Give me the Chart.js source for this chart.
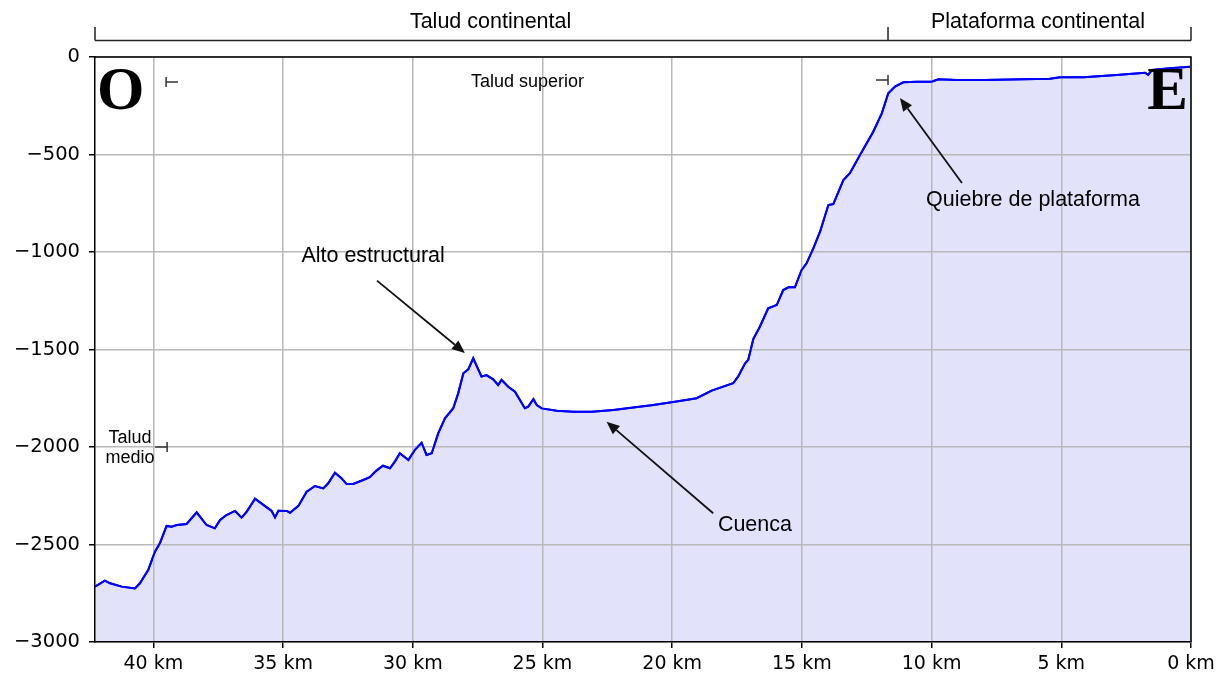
<!DOCTYPE html>
<html lang="es">
<head>
<meta charset="utf-8">
<title>Perfil batimétrico</title>
<script src="https://cdn.jsdelivr.net/npm/chart.js@4.4.1/dist/chart.umd.min.js"></script>
<style>
  html, body { margin: 0; padding: 0; background: #fff; }
  #wrap { width: 1225px; height: 673px; }
</style>
</head>
<body>
<div id="wrap"><canvas id="profilChart" width="1225" height="673"></canvas></div>
<script>
/* ===================================DATEN========================================= */

const distanzKm = [
  42.25, 41.87, 41.67, 41.22, 40.71, 40.52, 40.20, 39.94, 39.75, 39.49,
  39.30, 39.10, 38.72, 38.33, 37.95, 37.63, 37.43, 37.18, 36.85, 36.60,
  36.40, 36.08, 35.76, 35.44, 35.31, 35.18, 34.86, 34.73, 34.41, 34.09,
  33.77, 33.45, 33.26, 33.00, 32.75, 32.55, 32.30, 31.91, 31.66, 31.40,
  31.15, 30.88, 30.69, 30.50, 30.17, 29.92, 29.66, 29.47, 29.27, 29.02,
  28.76, 28.44, 28.25, 28.05, 27.86, 27.67, 27.35, 27.16, 26.90, 26.71,
  26.58, 26.32, 26.06, 25.68, 25.55, 25.35, 25.22, 25.03, 24.45, 23.81,
  23.10, 22.27, 21.50, 20.73, 19.96, 19.06, 18.48, 17.65, 17.46, 17.19,
  17.07, 16.87, 16.62, 16.30, 15.97, 15.72, 15.52, 15.27, 15.01, 14.82,
  14.56, 14.30, 13.98, 13.79, 13.40, 13.15, 12.76, 12.25, 11.92, 11.67,
  11.41, 11.09, 10.58, 10.00, 9.74, 9.03, 8.00, 5.44, 5.05, 4.15,
  2.87, 1.77, 1.65, 1.51, 0.81, 0.04
];
const tiefeM = [
  -2716, -2685, -2699, -2716, -2725, -2699, -2631, -2537, -2494, -2405,
  -2409, -2400, -2395, -2335, -2400, -2417, -2374, -2349, -2328, -2362,
  -2331, -2265, -2297, -2328, -2361, -2327, -2328, -2337, -2302, -2229,
  -2200, -2212, -2186, -2132, -2160, -2190, -2190, -2169, -2155, -2121,
  -2096, -2109, -2075, -2032, -2067, -2015, -1978, -2041, -2032, -1930,
  -1853, -1801, -1725, -1622, -1602, -1545, -1639, -1631, -1653, -1682,
  -1656, -1691, -1716, -1801, -1793, -1755, -1785, -1802, -1814, -1819,
  -1819, -1810, -1797, -1785, -1769, -1750, -1711, -1673, -1639, -1571,
  -1554, -1445, -1383, -1289, -1272, -1195, -1181, -1181, -1092, -1058,
  -981, -896, -759, -754, -631, -596, -503, -383, -289, -186,
  -152, -130, -127, -127, -114, -118, -118, -111, -104, -104,
  -92, -81, -92, -67, -58, -50
];

// Achsen
const xMaxKm = 42.25;
const xTicks = [0, 5, 10, 15, 20, 25, 30, 35, 40];
const yTicks = [-3000, -2500, -2000, -1500, -1000, -500, 0];

// Klammer über dem Plot (Grenzen in km)
const bereichGrenzen = [42.25, 11.68, 0];
const bereichLabels = ["Talud continental", "Plataforma continental"];
const bereichLabelKm = [27.0, 5.9];

// Beschriftungen im Plot [text, km, m]
const textLabels = [
  ["Talud superior", 25.58, -152],
  ["Talud", 40.9, -1978],
  ["medio", 40.9, -2082],
  ["Alto estructural", 31.53, -1050],
  ["Cuenca", 16.81, -2431],
  ["Quiebre de plataforma", 6.09, -764]
];

// Pfeile [vonKm, vonM, nachKm, nachM]
const pfeile = [
  [31.38, -1147, 27.99, -1518],
  [18.42, -2340, 22.53, -1870],
  [8.83, -646, 11.22, -210]
];

// Kleine Marker [km, m, Richtung] (+1 = Arm nach rechts, -1 = nach links)
const marker = [
  [39.51, -128, 1],
  [11.68, -118, -1],
  [39.47, -2000, -1]
];

/* ===================================ANNOTATIONEN========================================= */

const annotPlugin = {
  id: "annot",
  afterDraw(chart) {
    const { ctx, chartArea: a, scales: { x, y } } = chart;
    const px = v => x.getPixelForValue(v);
    const py = v => y.getPixelForValue(v);
    ctx.save();

    // Rahmen oben + rechts
    ctx.strokeStyle = "#000";
    ctx.lineWidth = 1.5;
    ctx.beginPath();
    ctx.moveTo(a.left, a.top);
    ctx.lineTo(a.right, a.top);
    ctx.lineTo(a.right, a.bottom);
    ctx.stroke();

    // Profillinie nochmal über das Gitter legen (wie bei matplotlib)
    chart.getDatasetMeta(0).dataset.draw(ctx, a);

    // Klammer oben
    const yLinie = py(84), yTickOben = py(154);
    ctx.strokeStyle = "#222";
    ctx.lineWidth = 1.5;
    ctx.beginPath();
    ctx.moveTo(px(bereichGrenzen[0]), yLinie);
    ctx.lineTo(px(bereichGrenzen[bereichGrenzen.length - 1]), yLinie);
    bereichGrenzen.forEach(k => {
      ctx.moveTo(px(k), yLinie);
      ctx.lineTo(px(k), yTickOben);
    });
    ctx.stroke();

    ctx.fillStyle = "#000";
    ctx.textAlign = "center";
    ctx.textBaseline = "alphabetic";
    ctx.font = '21.5px "Liberation Sans", Arial, sans-serif';
    bereichLabels.forEach((t, i) => ctx.fillText(t, px(bereichLabelKm[i]), py(150)));

    // O und E
    ctx.font = 'bold 61px "Liberation Serif", "DejaVu Serif", serif';
    ctx.textAlign = "left";
    ctx.fillText("O", px(42.17), py(-267));
    ctx.textAlign = "right";
    ctx.fillText("E", px(0.12), py(-267));

    // Texte
    ctx.textAlign = "center";
    textLabels.forEach(([t, k, m]) => {
      const klein = (t === "Talud superior" || t === "Talud" || t === "medio");
      ctx.font = (klein ? "18px" : "21.5px") + ' "Liberation Sans", Arial, sans-serif';
      ctx.fillText(t, px(k), py(m));
    });

    // Pfeile
    ctx.strokeStyle = "#111";
    ctx.fillStyle = "#111";
    ctx.lineWidth = 1.8;
    pfeile.forEach(([k1, m1, k2, m2]) => {
      const x1 = px(k1), y1 = py(m1), x2 = px(k2), y2 = py(m2);
      const w = Math.atan2(y2 - y1, x2 - x1);
      const len = 13, br = 5.5;
      const bx = x2 - len * Math.cos(w), by = y2 - len * Math.sin(w);
      ctx.beginPath();
      ctx.moveTo(x1, y1);
      ctx.lineTo(bx, by);
      ctx.stroke();
      ctx.beginPath();
      ctx.moveTo(x2, y2);
      ctx.lineTo(bx + br * Math.sin(w), by - br * Math.cos(w));
      ctx.lineTo(bx - br * Math.sin(w), by + br * Math.cos(w));
      ctx.closePath();
      ctx.fill();
    });

    // Marker |- und -|
    ctx.strokeStyle = "#333";
    ctx.lineWidth = 1.5;
    marker.forEach(([k, m, r]) => {
      const mx = px(k), my = py(m);
      ctx.beginPath();
      ctx.moveTo(mx, my - 5);
      ctx.lineTo(mx, my + 5);
      ctx.moveTo(mx, my);
      ctx.lineTo(mx + r * 12, my);
      ctx.stroke();
    });

    ctx.restore();
  }
};

/* ===================================CHART========================================= */

const canvas = document.getElementById("profilChart");
const punkte = distanzKm.map((k, i) => ({ x: k, y: tiefeM[i] }));

// gemeinsamer Stil für beide Achsen
const gitter = { color: "#b8b8b8", lineWidth: 1.5, tickColor: "#000", tickLength: 6, tickWidth: 1.5, z: 1 };
const rand = { color: "#000", width: 1.5, z: 2 };

new Chart(canvas.getContext("2d"), {
  type: "line",
  data: {
    datasets: [{
      data: punkte,
      borderColor: "#0000ff",
      borderWidth: 2,
      backgroundColor: "rgb(226, 226, 250)",
      fill: "start",
      pointRadius: 0,
      tension: 0
    }]
  },
  options: {
    responsive: false,
    animation: false,
    layout: { padding: { top: 57, right: 34, left: 0, bottom: 0 } },
    plugins: { legend: { display: false }, tooltip: { enabled: false } },
    scales: {
      // X Achse (umgekehrt, km)
      x: {
        type: "linear",
        reverse: true,
        min: 0,
        max: xMaxKm,
        afterBuildTicks: s => { s.ticks = xTicks.map(v => ({ value: v })); },
        afterFit: s => { s.height = 31; },
        grid: gitter,
        border: rand,
        ticks: {
          color: "#000",
          font: { family: "DejaVu Sans", size: 19 },
          padding: 5,
          maxRotation: 0,
          autoSkip: false,
          callback: v => v + " km"
        }
      },
      // Y Achse (Tiefe)
      y: {
        min: -3000,
        max: 0,
        afterBuildTicks: s => { s.ticks = yTicks.map(v => ({ value: v })); },
        afterFit: s => { s.width = 95; },
        grid: gitter,
        border: rand,
        ticks: {
          color: "#000",
          font: { family: "DejaVu Sans", size: 19.5 },
          padding: 9,
          autoSkip: false,
          callback: v => (v < 0 ? "\u2212" + Math.abs(v) : String(v))
        }
      }
    }
  },
  plugins: [annotPlugin]
});
</script>
</body>
</html>
